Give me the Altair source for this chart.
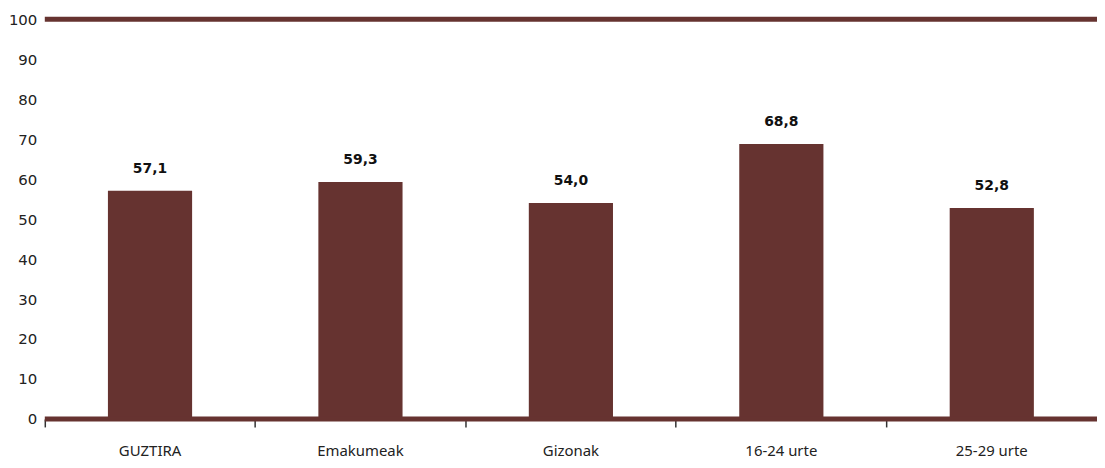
import altair as alt
import pandas as pd

categories = ["GUZTIRA", "Emakumeak", "Gizonak", "16-24 urte", "25-29 urte"]
values = [57.1, 59.3, 54.0, 68.8, 52.8]
labels = ["57,1", "59,3", "54,0", "68,8", "52,8"]

df = pd.DataFrame({"cat": categories, "val": values, "lab": labels})

COLOR = "#663330"

xaxis = alt.Axis(labelAngle=0, domain=False, ticks=True, tickSize=8,
                 tickWidth=1.5, tickColor="#333333",
                 bandPosition=0, labelPadding=17, labelFontSize=15,
                 labelFont="Noto Sans", labelColor="#222222")
yaxis = alt.Axis(values=list(range(0, 101, 10)), grid=False, domain=False,
                 ticks=False, labelPadding=8, labelFontSize=15,
                 labelOverlap=False,
                 labelFont="DejaVu Sans", labelColor="#222222")
xscale = alt.Scale(paddingInner=0, paddingOuter=0)
yscale = alt.Scale(domain=[0, 100], nice=False)

x = alt.X("cat:N", sort=categories, title=None, scale=xscale, axis=xaxis)

bars = alt.Chart(df).mark_bar(color=COLOR, width=alt.RelativeBandSize(0.4)).encode(
    x=x, y=alt.Y("val:Q", title=None, scale=yscale, axis=yaxis))

text = alt.Chart(df).mark_text(fontWeight="bold", fontSize=14, font="DejaVu Sans",
                               baseline="alphabetic", dy=-18, color="#111111").encode(
    x=x, y=alt.Y("val:Q", title=None, scale=yscale, axis=yaxis), text="lab:N")

lines_df = pd.DataFrame({"v": [0, 100]})
rules = alt.Chart(lines_df).mark_rule(color=COLOR, strokeWidth=5).encode(
    y=alt.Y("v:Q", title=None, scale=yscale, axis=yaxis))

chart = alt.layer(bars, text, rules).properties(
    width=1058, height=402,
    padding={"left": 37, "top": 10, "right": 0, "bottom": 40},
    autosize=alt.AutoSizeParams(type="none"),
).configure_view(stroke=None)

chart.save("out.html", embed_options={"renderer": "svg", "actions": False})
